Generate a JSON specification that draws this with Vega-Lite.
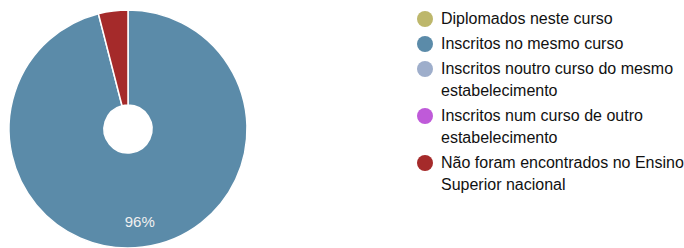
{
  "$schema": "https://vega.github.io/schema/vega-lite/v6.json",
  "width": 256,
  "height": 248,
  "padding": {"top": 5, "left": 0, "right": 0, "bottom": 0},
  "background": "white",
  "config": {"view": {"stroke": null}, "font": "Liberation Sans"},
  "data": {"values": [
    {"categoria": "Inscritos no mesmo curso", "valor": 96, "rotulo": "96%"},
    {"categoria": "Não foram encontrados no Ensino Superior nacional", "valor": 4, "rotulo": ""}
  ]},
  "encoding": {
    "theta": {"field": "valor", "type": "quantitative", "stack": true},
    "order": {"field": "categoria", "type": "ordinal", "sort": "ascending"},
    "color": {
      "field": "categoria", "type": "nominal",
      "scale": {
        "domain": ["Diplomados neste curso", "Inscritos no mesmo curso", "Inscritos noutro curso do mesmo estabelecimento", "Inscritos num curso de outro estabelecimento", "Não foram encontrados no Ensino Superior nacional"],
        "range": ["#bdb76b", "#5b8ba9", "#9eaecb", "#bf5ad9", "#a52a2a"]
      },
      "legend": {
        "title": null,
        "orient": "none",
        "legendX": 417,
        "legendY": 6,
        "symbolType": "circle",
        "symbolSize": 256,
        "symbolStrokeWidth": 0,
        "labelFontSize": 16,
        "labelFont": "Liberation Sans",
        "labelColor": "#111111",
        "labelLimit": 400,
        "labelOffset": 8,
        "rowPadding": 9,
        "encoding": {"labels": {"lineHeight": {"value": 22}}},
        "labelExpr": "datum.label == 'Inscritos noutro curso do mesmo estabelecimento' ? ['Inscritos noutro curso do mesmo', 'estabelecimento'] : datum.label == 'Inscritos num curso de outro estabelecimento' ? ['Inscritos num curso de outro', 'estabelecimento'] : datum.label == 'Não foram encontrados no Ensino Superior nacional' ? ['Não foram encontrados no Ensino', 'Superior nacional'] : datum.label"
      }
    }
  },
  "layer": [
    {"mark": {"type": "arc", "outerRadius": 119, "innerRadius": 24, "stroke": "white", "strokeWidth": 1.5}},
    {"mark": {"type": "text", "radius": 94, "fontSize": 15, "font": "Liberation Sans"},
     "encoding": {"text": {"field": "rotulo"}, "color": {"value": "#f0f0f0"}, "detail": {"field": "categoria"}}}
  ]
}
